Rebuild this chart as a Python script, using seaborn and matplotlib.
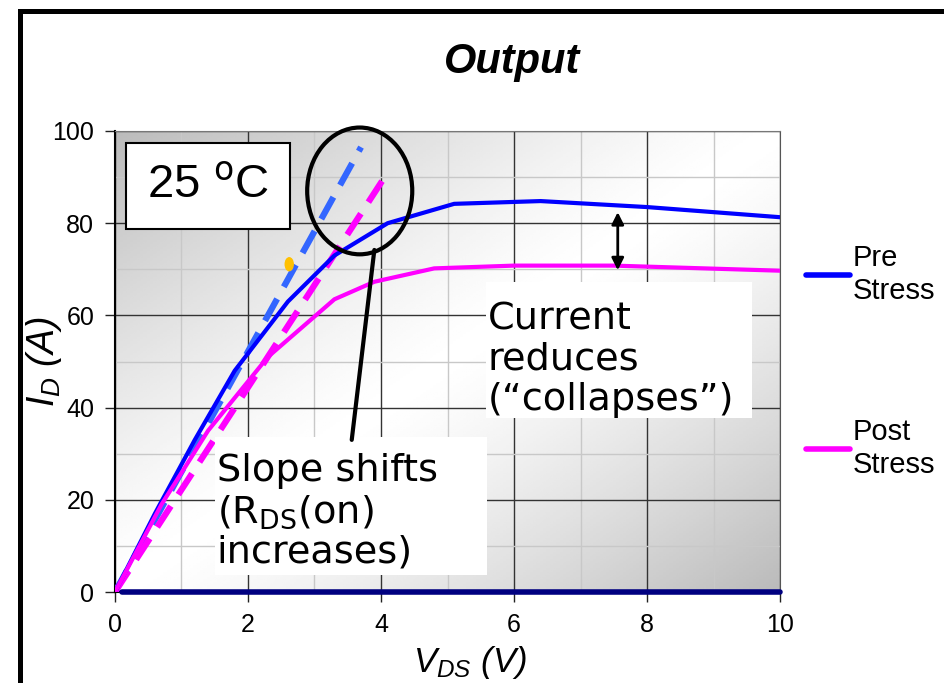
import numpy as np
import pandas as pd
import matplotlib
matplotlib.use("Agg")
import matplotlib.pyplot as plt
import seaborn as sns
from matplotlib.patches import Ellipse, Rectangle

# Output curves
vds_pre = [0, 0.6, 1.2, 1.8, 2.6, 3.3, 4.1, 5.1, 6.4, 8.0, 10.0]
id_pre = [0, 17, 33, 48, 63, 73, 80, 84.2, 84.8, 83.5, 81.3]
vds_post = [0, 0.7, 1.4, 2.3, 3.3, 3.9, 4.8, 6.0, 7.5, 10.0]
id_post = [0, 19, 35, 51, 63.5, 67.3, 70.2, 70.8, 70.8, 69.7]
# linear-region slope lines
vds_pre_fit = [0, 3.7]
id_pre_fit = [0, 96.5]
vds_post_fit = [0, 4.1]
id_post_fit = [0, 91]
# zero-current baseline
vds_zero = [0.1, 10]
id_zero = [0, 0]

sns.set_style("white")
plt.rcParams['font.family'] = ['Liberation Sans', 'DejaVu Sans']
plt.rcParams['text.color'] = 'black'
plt.rcParams['axes.labelcolor'] = 'black'
plt.rcParams['xtick.color'] = 'black'
plt.rcParams['ytick.color'] = 'black'
plt.rcParams['mathtext.fontset'] = 'custom'
plt.rcParams['mathtext.rm'] = 'DejaVu Sans'
plt.rcParams['mathtext.it'] = 'Liberation Sans:italic'

fig = plt.figure(figsize=(9.44, 6.83), dpi=100)
ax = fig.add_axes([0.1218, 0.1332, 0.7045, 0.675])

# diagonal gradient background
gx, gy = np.meshgrid(np.linspace(0, 1, 200), np.linspace(0, 1, 200))
t = (gx + gy)  # 0 at top-left, 2 at bottom-right (origin upper)
shade = 1 - 0.27 * np.abs(t - 1.0) ** 1.3
ax.imshow(shade, cmap='gray', vmin=0, vmax=1, extent=[0, 10, 0, 100],
          aspect='auto', origin='upper', zorder=0)

df_pre = pd.DataFrame({'Vds': vds_pre, 'Id': id_pre})
df_post = pd.DataFrame({'Vds': vds_post, 'Id': id_post})
sns.lineplot(data=df_pre, x='Vds', y='Id', color='#0000ff', lw=3, ax=ax, zorder=4, label='Pre\nStress')
sns.lineplot(data=df_post, x='Vds', y='Id', color='#ff00ff', lw=3, ax=ax, zorder=4, label='Post\nStress')
sns.lineplot(x=vds_pre_fit, y=id_pre_fit, color='#3366ff', lw=4.5, ax=ax, zorder=3,
             linestyle=(0, (4, 2.2)))
sns.lineplot(x=vds_post_fit, y=id_post_fit, color='#ff00ff', lw=4.5, ax=ax, zorder=3,
             linestyle=(0, (4, 2.2)))
sns.lineplot(x=vds_zero, y=id_zero, color='#000080', lw=4, ax=ax, zorder=5, clip_on=False)
ax.add_patch(Ellipse((2.62, 71.1), 0.12, 2.8, color='#ffc000', zorder=4))

ax.set_xlim(0, 10)
ax.set_ylim(0, 100)
ax.set_xticks([0, 2, 4, 6, 8, 10])
ax.set_yticks([0, 20, 40, 60, 80, 100])
ax.set_xticks([1, 3, 5, 7, 9], minor=True)
ax.set_yticks([10, 30, 50, 70, 90], minor=True)
ax.grid(which='major', color='#333333', lw=1, zorder=1)
ax.grid(which='minor', color='#c8c8c8', lw=1, zorder=1)
ax.set_axisbelow(True)
ax.tick_params(which='major', direction='out', length=7, width=1, color='#222222',
               labelsize=18, pad=8, left=True, bottom=True)
ax.tick_params(which='minor', length=0)
for s in ['left', 'bottom']:
    ax.spines[s].set_color('black')
    ax.spines[s].set_linewidth(1.5)
ax.spines['top'].set_color('#777777')
ax.spines['right'].set_color('#555555')

ax.set_xlabel('$V_{DS}$ (V)', fontsize=25, style='italic')
ax.xaxis.set_label_coords(0.534, -0.112)
ax.set_ylabel('$I_D$ (A)', fontsize=27, style='italic')
ax.yaxis.set_label_coords(-0.077, 0.5)
fig.text(512 / 944, 1 - 62 / 683, 'Output', fontsize=30, fontweight='bold', style='italic',
         ha='center', va='center')

# legend
leg = ax.legend(loc='center left', bbox_to_anchor=(1.0, 0.5), frameon=False,
                fontsize=21, handlelength=1.5, handletextpad=0.1,
                labelspacing=3.9)
for ln in leg.get_lines():
    ln.set_linewidth(4)

# temperature box
ax.text(0.48, 85.5, '25 $^{\\mathrm{o}}$C', fontsize=34, va='baseline', ha='left', zorder=6,
        bbox=dict(facecolor='white', edgecolor='black', lw=1.5, boxstyle='square,pad=0.45'))

# circle and pointer for slope change
ax.add_patch(Ellipse((3.68, 87.0), 1.58, 27.5, fill=False, edgecolor='black', lw=3,
                     zorder=7, clip_on=False))
ax.plot([3.9, 3.56], [74.2, 33], color='black', lw=3, zorder=7)

# white note boxes
ax.add_patch(Rectangle((1.50, 3.7), 4.09, 29.9, facecolor='white', edgecolor='none', zorder=6))
ax.add_patch(Rectangle((5.58, 37.7), 4.0, 29.5, facecolor='white', edgecolor='none', zorder=6))
# va='baseline' on multi-line text pins the last line's baseline
ax.text(1.53, 6.3, 'Slope shifts\n(R$_{\\mathrm{DS}}$(on)\nincreases)', fontsize=27.5,
        family='DejaVu Sans', va='baseline', ha='left', linespacing=1.15, zorder=7)
ax.text(5.6, 39.5, 'Current\nreduces\n(\u201ccollapses\u201d)', fontsize=27.5,
        family='DejaVu Sans', va='baseline', ha='left', linespacing=1.15, zorder=7)
ax.annotate('', xy=(7.56, 69.8), xytext=(7.56, 82.4), zorder=6,
            arrowprops=dict(arrowstyle='<|-|>', color='black', lw=2, mutation_scale=18,
                            shrinkA=0, shrinkB=0))

# slide border
fig.patches.append(Rectangle((0.0217, -0.1), 1.2, 1.0846, transform=fig.transFigure,
                             fill=False, edgecolor='black', lw=3.6))

fig.savefig('out.png', dpi=100)
